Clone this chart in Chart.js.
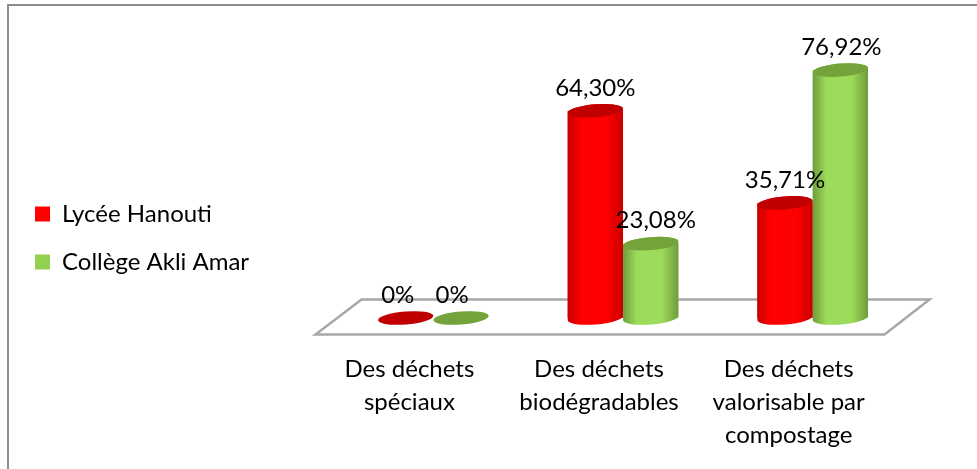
<!DOCTYPE html>
<html>
<head>
<meta charset="utf-8">
<style>
html, body { margin: 0; padding: 0; background: #fff; }
canvas { display: block; }
</style>
<script src="https://cdn.jsdelivr.net/npm/chart.js@4/dist/chart.umd.min.js"></script>
</head>
<body>
<canvas id="wasteChart" width="977" height="469"></canvas>
<script>
const categories = [
    ['Des déchets', 'spéciaux'],
    ['Des déchets', 'biodégradables'],
    ['Des déchets', 'valorisable par', 'compostage']
];
const lyceeValues = [0, 64.30, 35.71];
const collegeValues = [0, 23.08, 76.92];
const lyceeLabels = ['0%', '64,30%', '35,71%'];
const collegeLabels = ['0%', '23,08%', '76,92%'];

const FONT = 'Lato, Carlito, sans-serif';

// colours per series: edge of the cylinder, centre of the cylinder, cap
const looks = [
    { edge: '#c80000', mid: '#ff0000', cap: '#c00000', labels: lyceeLabels, shift: [-8, 0, 0] },
    { edge: '#6f9c3c', mid: '#9cdc5a', cap: '#73a33a', labels: collegeLabels, shift: [-9, 5, 1] }
];

// Floor
const floorPlugin = {
    id: 'floor',
    beforeDatasetsDraw(chart) {
        const { ctx, scales } = chart;
        const left = scales.x.left, right = scales.x.right;
        const y0 = scales.y.getPixelForValue(0) - 0.5;
        ctx.save();
        ctx.strokeStyle = '#a8a8a8';
        ctx.lineWidth = 2.5;
        ctx.beginPath();
        ctx.moveTo(left - 23, y0 + 17);
        ctx.lineTo(left + 23, y0 - 18);
        ctx.lineTo(right + 22, y0 - 18);
        ctx.lineTo(right - 23, y0 + 17);
        ctx.closePath();
        ctx.stroke();
        ctx.restore();
    }
};

// Cylinders and value labels on top of the bars
const cylinderPlugin = {
    id: 'cylinder',
    afterDatasetsDraw(chart) {
        const ctx = chart.ctx;
        looks.forEach((look, d) => {
            chart.getDatasetMeta(d).data.forEach((bar) => {
                const rx = bar.width / 2, ry = 6.5;
                const base = bar.base, top = bar.y;
                if (base - top > 1) {
                    const g = ctx.createLinearGradient(bar.x - rx, 0, bar.x + rx, 0);
                    g.addColorStop(0, look.edge);
                    g.addColorStop(0.25, look.mid);
                    g.addColorStop(0.7, look.mid);
                    g.addColorStop(1, look.edge);
                    ctx.fillStyle = g;
                    ctx.beginPath();
                    ctx.ellipse(bar.x, base, rx, ry, -0.08, 0, Math.PI);
                    ctx.ellipse(bar.x, top, rx, ry, -0.08, Math.PI, Math.PI * 2);
                    ctx.closePath();
                    ctx.fill();
                }
                ctx.fillStyle = look.cap;
                ctx.beginPath();
                ctx.ellipse(bar.x, top, rx, ry, -0.08, 0, Math.PI * 2);
                ctx.fill();
            });
        });
        ctx.fillStyle = '#000';
        ctx.font = '24px ' + FONT;
        ctx.textAlign = 'center';
        ctx.textBaseline = 'middle';
        looks.forEach((look, d) => {
            chart.getDatasetMeta(d).data.forEach((bar, i) => {
                ctx.fillText(look.labels[i], bar.x + look.shift[i], bar.y - 23);
            });
        });
    },
    afterDraw(chart) {
        // picture frame: only the left and top edges are in the crop
        const ctx = chart.ctx;
        ctx.save();
        ctx.strokeStyle = '#8c8c8c';
        ctx.lineWidth = 2;
        ctx.beginPath();
        ctx.moveTo(8, 469);
        ctx.lineTo(8, 5);
        ctx.lineTo(977, 5);
        ctx.stroke();
        ctx.restore();
    }
};

const wasteChart = new Chart(document.getElementById('wasteChart'), {
    type: 'bar',
    data: {
        labels: categories,
        datasets: [
            { label: 'Lycée Hanouti', data: lyceeValues, backgroundColor: '#ff0000' },
            { label: 'Collège Akli Amar', data: collegeValues, backgroundColor: '#92d050' }
        ]
    },
    options: {
        responsive: false,
        animation: false,
        events: [],
        categoryPercentage: 0.584,
        barPercentage: 1,
        layout: { padding: { top: 7, right: 69.5, left: 11, bottom: 0 } },
        plugins: {
            tooltip: { enabled: false },
            legend: {
                position: 'left',
                maxWidth: 270,
                labels: {
                    color: '#000',
                    font: { family: FONT, size: 24 },
                    boxWidth: 15,
                    boxHeight: 15,
                    padding: 24
                }
            }
        },
        scales: {
            x: {
                grid: { display: false },
                border: { display: false },
                afterFit(scale) { scale.height = 151; },
                ticks: {
                    color: '#000',
                    font: { family: FONT, size: 24, lineHeight: 1.375 },
                    labelOffset: -24,
                    maxRotation: 0,
                    padding: 27
                }
            },
            y: {
                min: 0,
                max: 96.5,
                grid: { display: false },
                border: { display: false },
                ticks: { display: false },
                afterFit(scale) { scale.width = 79.5; }
            }
        }
    },
    plugins: [floorPlugin, cylinderPlugin]
});
</script>
</body>
</html>
